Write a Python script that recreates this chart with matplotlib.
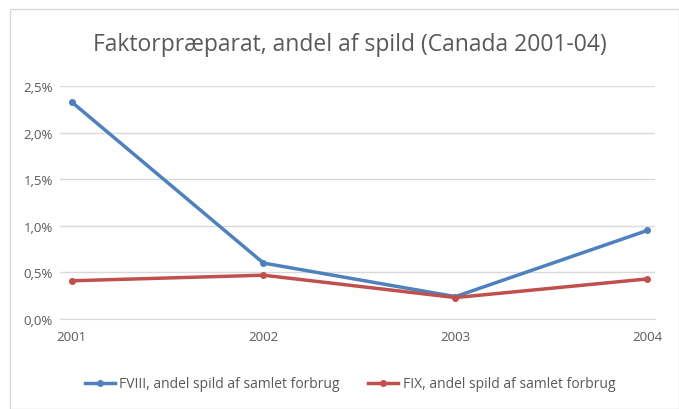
import matplotlib
matplotlib.use('Agg')
import matplotlib.pyplot as plt
from matplotlib.patches import Rectangle
from matplotlib.ticker import FuncFormatter

years = ['2001', '2002', '2003', '2004']
fviii = [2.33, 0.60, 0.24, 0.95]
fix = [0.41, 0.47, 0.23, 0.43]
yticks = [0.0, 0.5, 1.0, 1.5, 2.0, 2.5]

plt.rcParams['font.family'] = ['Open Sans', 'DejaVu Sans']
grey = '#595959'

fig = plt.figure(figsize=(6.79, 4.10), dpi=100)
fig.patches.append(Rectangle((10/679, 0.0), 669/679, 400/410, transform=fig.transFigure,
                             fill=False, edgecolor='#d9d9d9', lw=1))

ax = fig.add_axes([60/679, 1 - 320/410, 595/679, 233/410])
x = range(len(years))
ax.plot(x, fviii, '-o', color='#4F81BD', lw=2.5, ms=4, label='FVIII, andel spild af samlet forbrug')
ax.plot(x, fix, '-o', color='#C0504D', lw=2.5, ms=4, label='FIX, andel spild af samlet forbrug')

ax.set_xlim(-0.06, 3.04)
ax.set_ylim(0, 2.5)
ax.set_yticks(yticks)
ax.yaxis.set_major_formatter(FuncFormatter(lambda v, p: f'{v:.1f}%'.replace('.', ',')))
ax.set_xticks(list(x))
ax.set_xticklabels(years)
ax.grid(axis='y', color='#d9d9d9', lw=1)
ax.set_axisbelow(True)
for s in ax.spines.values():
    s.set_visible(False)
ax.spines['bottom'].set_visible(True)
ax.spines['bottom'].set_color('#d9d9d9')
ax.tick_params(length=0, colors=grey, labelsize=9.5)
ax.tick_params(axis='x', pad=8)
ax.tick_params(axis='y', pad=5)

fig.text(350/679, 1 - 45/410, 'Faktorpræparat, andel af spild (Canada 2001-04)', ha='center', va='center',
         fontsize=16.5, color=grey)
fig.legend(loc='center', bbox_to_anchor=(350/679, 1 - 385/410), ncol=2, frameon=False,
           fontsize=10, labelcolor=grey, handlelength=2.2, handletextpad=0.3, columnspacing=2.0)

fig.savefig('out.png', dpi=100)
